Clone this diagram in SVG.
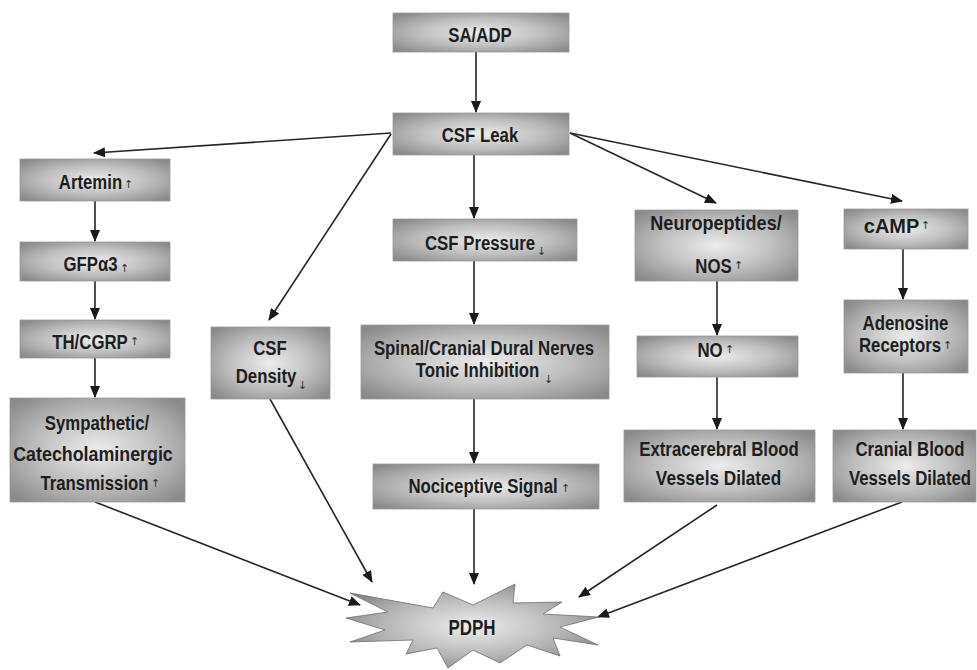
<svg xmlns="http://www.w3.org/2000/svg" width="977" height="670" viewBox="0 0 977 670">
<defs>
<radialGradient id="boxg" cx="0.5" cy="0.5" r="0.65">
<stop offset="0" stop-color="#ececec"/>
<stop offset="0.55" stop-color="#bdbdbd"/>
<stop offset="1" stop-color="#8a8a8a"/>
</radialGradient>
<radialGradient id="starg" cx="0.5" cy="0.5" r="0.6">
<stop offset="0" stop-color="#eeeeee"/>
<stop offset="0.6" stop-color="#b5b5b5"/>
<stop offset="1" stop-color="#808080"/>
</radialGradient>
<marker id="ah" markerUnits="userSpaceOnUse" markerWidth="12" markerHeight="10" refX="11" refY="5" orient="auto">
<path d="M0,0 L12,5 L0,10 z" fill="#1a1a1a"/>
</marker>
</defs>
<style>
.box{fill:url(#boxg);stroke:#9a9a9a;stroke-width:0.8}
.t{font-family:"Liberation Sans",Arial,sans-serif;font-weight:bold;font-size:21px;fill:#1e1e1e;text-anchor:middle}
.a{font-family:"DejaVu Sans",sans-serif;font-size:11px;fill:#333;text-anchor:start}
.c{stroke:#262626;stroke-width:1.6;fill:none;marker-end:url(#ah)}
</style>
<rect width="977" height="670" fill="#ffffff"/>

<g id="connectors">
<line class="c" x1="476" y1="52" x2="476" y2="112"/>
<line class="c" x1="391" y1="133" x2="94" y2="153"/>
<line class="c" x1="391" y1="134" x2="269" y2="320"/>
<line class="c" x1="474" y1="155" x2="474" y2="218"/>
<line class="c" x1="570" y1="133" x2="716" y2="203"/>
<line class="c" x1="570" y1="133" x2="902" y2="201"/>
<line class="c" x1="95" y1="201" x2="95" y2="241"/>
<line class="c" x1="95" y1="281" x2="95" y2="319"/>
<line class="c" x1="95" y1="358" x2="95" y2="397"/>
<line class="c" x1="474" y1="261" x2="474" y2="324"/>
<line class="c" x1="474" y1="399" x2="474" y2="463"/>
<line class="c" x1="474" y1="509" x2="474" y2="584"/>
<line class="c" x1="717" y1="281" x2="717" y2="335"/>
<line class="c" x1="717" y1="377" x2="717" y2="429"/>
<line class="c" x1="903" y1="249" x2="903" y2="299"/>
<line class="c" x1="903" y1="373" x2="903" y2="429"/>
<line class="c" x1="95" y1="502" x2="360" y2="605"/>
<line class="c" x1="270" y1="399" x2="372" y2="582"/>
<line class="c" x1="717" y1="505" x2="579" y2="597"/>
<line class="c" x1="902" y1="502" x2="598" y2="617"/>
</g>

<g id="n-saadp"><rect class="box" x="393" y="13" width="176" height="39"/><text class="t" transform="translate(480,42) scale(0.8,1)">SA/ADP</text></g>
<g id="n-csfleak"><rect class="box" x="393" y="113" width="176" height="42"/><text class="t" transform="translate(480,142) scale(0.8,1)">CSF Leak</text></g>
<g id="n-artemin"><rect class="box" x="20" y="159" width="150" height="42"/><text class="t" transform="translate(90.5,189) scale(0.8,1)">Artemin</text><text class="a" x="124" y="188">↑</text></g>
<g id="n-gfpa3"><rect class="box" x="20" y="242" width="150" height="39"/><text class="t" transform="translate(90.5,271) scale(0.8,1)">GFPα3</text><text class="a" x="120" y="272">↑</text></g>
<g id="n-thcgrp"><rect class="box" x="20" y="320" width="150" height="38"/><text class="t" transform="translate(90,349) scale(0.8,1)">TH/CGRP</text><text class="a" x="130" y="345">↑</text></g>
<g id="n-sympathetic"><rect class="box" x="10" y="398" width="175" height="104"/>
<text class="t" transform="translate(97,430) scale(0.8,1)">Sympathetic/</text>
<text class="t" transform="translate(93,461) scale(0.85,1)">Catecholaminergic</text>
<text class="t" transform="translate(94.5,490) scale(0.8,1)">Transmission</text><text class="a" x="151" y="487">↑</text></g>
<g id="n-csfdensity"><rect class="box" x="211" y="327" width="119" height="72"/>
<text class="t" transform="translate(270,355) scale(0.8,1)">CSF</text>
<text class="t" transform="translate(266,383) scale(0.8,1)">Density</text><text class="a" x="298" y="389">↓</text></g>
<g id="n-csfpressure"><rect class="box" x="393" y="219" width="184" height="42"/><text class="t" transform="translate(480,250) scale(0.8,1)">CSF Pressure</text><text class="a" x="537" y="255">↓</text></g>
<g id="n-spinal"><rect class="box" x="361" y="325" width="248" height="74"/>
<text class="t" transform="translate(484,355) scale(0.8,1)">Spinal/Cranial Dural Nerves</text>
<text class="t" transform="translate(477.5,377) scale(0.8,1)">Tonic Inhibition</text><text class="a" x="544" y="383">↓</text></g>
<g id="n-nociceptive"><rect class="box" x="373" y="464" width="226" height="45"/><text class="t" transform="translate(483,493) scale(0.8,1)">Nociceptive Signal</text><text class="a" x="561" y="492">↑</text></g>
<g id="n-neuropeptides"><rect class="box" x="635" y="210" width="163" height="71"/>
<text class="t" transform="translate(716,230) scale(0.86,1)">Neuropeptides/</text>
<text class="t" transform="translate(713.5,273) scale(0.8,1)">NOS</text><text class="a" x="734" y="269">↑</text></g>
<g id="n-no"><rect class="box" x="637" y="336" width="161" height="41"/><text class="t" transform="translate(710,357) scale(0.8,1)">NO</text><text class="a" x="725" y="353">↑</text></g>
<g id="n-extracerebral"><rect class="box" x="624" y="430" width="191" height="72"/>
<text class="t" transform="translate(719,456) scale(0.8,1)">Extracerebral Blood</text>
<text class="t" transform="translate(718.5,485) scale(0.82,1)">Vessels Dilated</text></g>
<g id="n-camp"><rect class="box" x="844" y="209" width="124" height="40"/><text class="t" transform="translate(891.5,233) scale(0.95,1)">cAMP</text><text class="a" x="921" y="229">↑</text></g>
<g id="n-adenosine"><rect class="box" x="844" y="300" width="124" height="73"/>
<text class="t" transform="translate(905.5,330) scale(0.8,1)">Adenosine</text>
<text class="t" transform="translate(900,352) scale(0.8,1)">Receptors</text><text class="a" x="943" y="349">↑</text></g>
<g id="n-cranial"><rect class="box" x="833" y="430" width="143" height="72"/>
<text class="t" transform="translate(910,456) scale(0.8,1)">Cranial Blood</text>
<text class="t" transform="translate(910,485) scale(0.8,1)">Vessels Dilated</text></g>
<g id="n-pdph">
<polygon points="350,593 433,608 443,592 473,605 515,584 513,603 562,602 543,614 599,617 560,627 598,645 553,638 560,656 527,645 500,663 473,650 448,668 437,648 406,654 413,640 350,642 385,630 346,618 388,612" fill="url(#starg)" stroke="#6e6e6e" stroke-width="0.8"/>
<text class="t" transform="translate(472,635) scale(0.77,1)" style="font-size:22px">PDPH</text>
</g>
</svg>
